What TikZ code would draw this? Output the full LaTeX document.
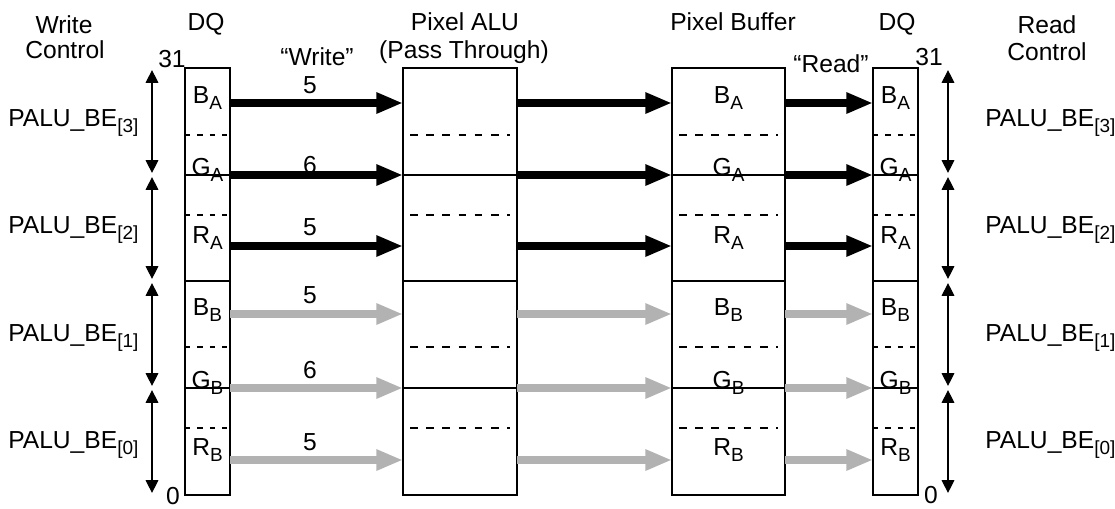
\documentclass[tikz,border=0pt]{standalone}
\usepackage{fontspec}
\setmainfont{Liberation Sans}
\usepackage{tikz}
\usetikzlibrary{arrows.meta,positioning,calc}
\definecolor{busgray}{RGB}{178,178,178}
\newcommand{\fsub}[1]{\raisebox{-4.5pt}{\fontsize{13.5}{14}\selectfont #1}}

\tikzset{
  regbox/.style={draw, line width=0.9pt, inner sep=0pt, outer sep=0pt, anchor=north west, minimum height=10.675cm},
  txt/.style={font=\fontsize{17.5}{19}\selectfont, inner sep=0pt, anchor=base},
  fieldsep/.style={line width=0.8pt, dash pattern=on 5.5pt off 6pt},
  dqsep/.style={line width=0.8pt, dash pattern=on 3.8pt off 5pt},
  bytesep/.style={line width=0.9pt},
  busA/.style={line width=5pt, -{Triangle[length=19pt,width=14pt]}},
  busB/.style={busA, busgray},
  bespan/.style={line width=0.8pt, {Triangle[length=9pt,width=9pt]}-{Triangle[length=9pt,width=9pt]}, shorten <=1.5pt, shorten >=1.5pt},
}

\begin{document}
\begin{tikzpicture}[x=0.025cm, y=-0.025cm]
    \useasboundingbox (0,0) rectangle (1115,508);

    % byte, field and bus levels
    \coordinate (b0) at (0,68);
    \coordinate (b1) at (0,175);
    \coordinate (b2) at (0,281);
    \coordinate (b3) at (0,388);
    \coordinate (b4) at (0,495);
    \coordinate (d1) at (0,135);
    \coordinate (d2) at (0,215);
    \coordinate (d3) at (0,347);
    \coordinate (d4) at (0,428);
    \coordinate (r1) at (0,103);
    \coordinate (r2) at (0,175);
    \coordinate (r3) at (0,246);
    \coordinate (r4) at (0,314);
    \coordinate (r5) at (0,388);
    \coordinate (r6) at (0,460);
    \coordinate (wl) at (152,0);
    \coordinate (rl) at (948,0);

    % headings
    \node[txt] (wrt) at (64,33) {Write};
    \node[txt] (wrtc) at (65,58) {Control};
    \node[txt] (dqwt) at (206,30) {DQ};
    \node[txt] (alut) at (465,30) {Pixel ALU};
    \node[txt] (alus) at (464,58) {(Pass Through)};
    \node[txt] (buft) at (733,30) {Pixel Buffer};
    \node[txt] (dqrt) at (897,30) {DQ};
    \node[txt] (rdt) at (1047,33) {Read};
    \node[txt] (rdc) at (1047,60) {Control};
    \node[txt] (wq) at (317,65) {“Write”};
    \node[txt] (rq) at (831,72) {“Read”};

    % registers
    \node[regbox, minimum width=1.125cm] (dqw) at (185,68) {};
    \node[regbox, minimum width=2.85cm] (alu) at (403,68) {};
    \node[regbox, minimum width=2.825cm] (buf) at (672,68) {};
    \node[regbox, minimum width=1.125cm] (dqr) at (873,68) {};
    \node[txt] (hiw) at (172,67) {31};
    \node[txt] (low) at (173,504) {0};
    \node[txt] (hir) at (929,65) {31};
    \node[txt] (lor) at (931,503) {0};

    % byte and field separators
    \foreach \bx in {dqw,alu,buf,dqr}
      \foreach \b in {b1,b2,b3}
        \draw[bytesep] (\bx.west |- \b) -- (\bx.east |- \b);
    \foreach \d in {d1,d2,d3,d4}{
      \draw[dqsep] (dqw.west |- \d) -- (dqw.east |- \d);
      \draw[dqsep] (dqr.west |- \d) -- (dqr.east |- \d);
      \draw[fieldsep] ($(alu.west |- \d)+(7,0)$) -- ($(alu.east |- \d)+(-7,0)$);
      \draw[fieldsep] ($(buf.west |- \d)+(7,0)$) -- ($(buf.east |- \d)+(-7,0)$);
    }

    % pixel A (black) and pixel B (gray) buses
    \foreach \r in {r1,r2,r3}{
      \draw[busA] (dqw.east |- \r) -- (alu.west |- \r);
      \draw[busA] (alu.east |- \r) -- (buf.west |- \r);
      \draw[busA] (buf.east |- \r) -- (dqr.west |- \r);
    }
    \foreach \r in {r4,r5,r6}{
      \draw[busB] (dqw.east |- \r) -- (alu.west |- \r);
      \draw[busB] (alu.east |- \r) -- (buf.west |- \r);
      \draw[busB] (buf.east |- \r) -- (dqr.west |- \r);
    }

    % field names
    \foreach \n/\t/\y in {1/B\fsub{A}/103, 2/G\fsub{A}/175, 3/R\fsub{A}/243,
                          4/B\fsub{B}/315, 5/G\fsub{B}/388, 6/R\fsub{B}/455}{
      \node[txt] (fw\n) at (dqw.center |- 0,\y) {\t};
      \node[txt] (fb\n) at (buf.center |- 0,\y) {\t};
      \node[txt] (fr\n) at (dqr.center |- 0,\y) {\t};
    }

    % bit widths
    \foreach \n/\t/\y in {1/5/93, 2/6/173, 3/5/235, 4/5/303, 5/6/378, 6/5/450}
      \node[txt] (nb\n) at (310,\y) {\t};

    % byte enables
    \foreach \a/\b in {b0/b1,b1/b2,b2/b3,b3/b4}{
      \draw[bespan] (wl |- \a) -- (wl |- \b);
      \draw[bespan] (rl |- \a) -- (rl |- \b);
    }
    \foreach \n/\y in {3/126, 2/233, 1/341, 0/448}{
      \node[txt, anchor=base west] (bew\n) at (8,\y) {PALU\_BE\fsub{[\n]}};
      \node[txt, anchor=base west] (ber\n) at (985,\y) {PALU\_BE\fsub{[\n]}};
    }
\end{tikzpicture}
\end{document}
